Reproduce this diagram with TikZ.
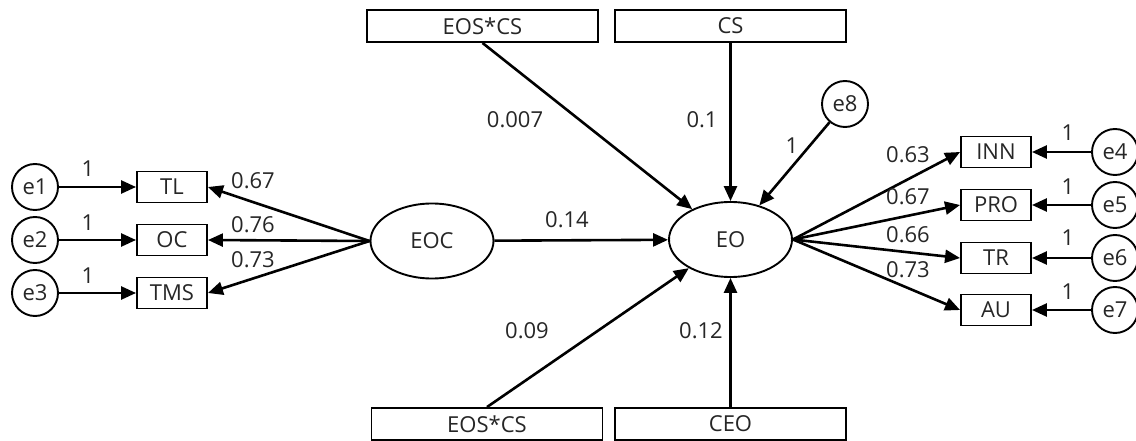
\documentclass[tikz,border=0pt]{standalone}
\usepackage{fontspec}
\setmainfont{Open Sans}
\usetikzlibrary{arrows.meta,shapes.geometric}
\begin{document}
\begin{tikzpicture}[x=1pt,y=-1pt,
  font=\fontsize{22}{26}\selectfont,
  every node/.style={text=black!85},
  box/.style={draw,line width=1.9pt,rectangle,minimum width=70pt,minimum height=31pt,inner sep=0pt},
  widebox/.style={box,minimum width=231pt,minimum height=32pt},
  lat/.style={draw,ellipse,line width=1.9pt,minimum width=123pt,minimum height=75pt,inner sep=0pt},
  err/.style={draw,circle,line width=1.9pt,minimum size=46pt,inner sep=0pt},
  arr/.style={line width=2.6pt,-{Triangle[length=15pt,width=13pt]}},
  lab/.style={inner sep=0pt}]
\useasboundingbox (0,0) rectangle (1136,441);
% top / bottom boxes
\node[widebox] (topA) at (482.5,26) {EOS*CS};
\node[widebox] (topB) at (730.5,26) {CS};
\node[widebox] (botA) at (487,424) {EOS*CS};
\node[widebox] (botB) at (730.5,424) {CEO};
% latent variables
\node[lat] (EO) at (730.5,239.5) {EO};
\node[lat] (EOC) at (432,241) {EOC};
% left indicators
\node[box] (TL) at (172,187) {TL};
\node[box] (OC) at (172,240) {OC};
\node[box] (TMS) at (172,293) {TMS};
\node[err] (e1) at (35,187) {e1};
\node[err] (e2) at (35,240) {e2};
\node[err] (e3) at (35,293) {e3};
% right indicators
\node[box] (INN) at (996,152) {INN};
\node[box] (PRO) at (996,205) {PRO};
\node[box] (TR) at (996,258) {TR};
\node[box] (AU) at (996,310) {AU};
\node[err] (e4) at (1115,152) {e4};
\node[err] (e5) at (1115,205) {e5};
\node[err] (e6) at (1115,258) {e6};
\node[err] (e7) at (1115,310) {e7};
\node[err] (e8) at (845,104) {e8};
% connectors
\draw[arr] (e1) -- (TL);
\draw[arr] (e2) -- (OC);
\draw[arr] (e3) -- (TMS);
\draw[arr] (EOC.west) -- (TL.east);
\draw[arr] (EOC.west) -- (OC.east);
\draw[arr] (EOC.west) -- (TMS.east);
\draw[arr] (EOC) -- (EO);
\draw[arr] (topA.south) -- (EO);
\draw[arr] (topB.south) -- (EO.north);
\draw[arr] (botA.north) -- (EO);
\draw[arr] (botB.north) -- (EO.south);
\draw[arr] (e8) -- (EO);
\draw[arr] (EO.east) -- (INN.west);
\draw[arr] (EO.east) -- (PRO.west);
\draw[arr] (EO.east) -- (TR.west);
\draw[arr] (EO.east) -- (AU.west);
\draw[arr] (e4) -- (INN);
\draw[arr] (e5) -- (PRO);
\draw[arr] (e6) -- (TR);
\draw[arr] (e7) -- (AU);
% labels
\node[lab] (l1) at (88,169) {1};
\node[lab] (l2) at (88,223) {1};
\node[lab] (l3) at (88,276) {1};
\node[lab] (lTL) at (253,181) {0.67};
\node[lab] (lOC) at (253,225) {0.76};
\node[lab] (lTMS) at (253,260) {0.73};
\node[lab] (lEOC) at (567,220) {0.14};
\node[lab] (lA) at (515,120) {0.007};
\node[lab] (lB) at (702,120) {0.1};
\node[lab] (l8) at (792,146) {1};
\node[lab] (lC) at (527,331) {0.09};
\node[lab] (lD) at (701,331) {0.12};
\node[lab] (lINN) at (908,155) {0.63};
\node[lab] (lPRO) at (908,197) {0.67};
\node[lab] (lTR) at (908,235) {0.66};
\node[lab] (lAU) at (908,270) {0.73};
\node[lab] (l4) at (1068,133) {1};
\node[lab] (l5) at (1068,187) {1};
\node[lab] (l6) at (1068,238) {1};
\node[lab] (l7) at (1068,292) {1};
\end{tikzpicture}
\end{document}
